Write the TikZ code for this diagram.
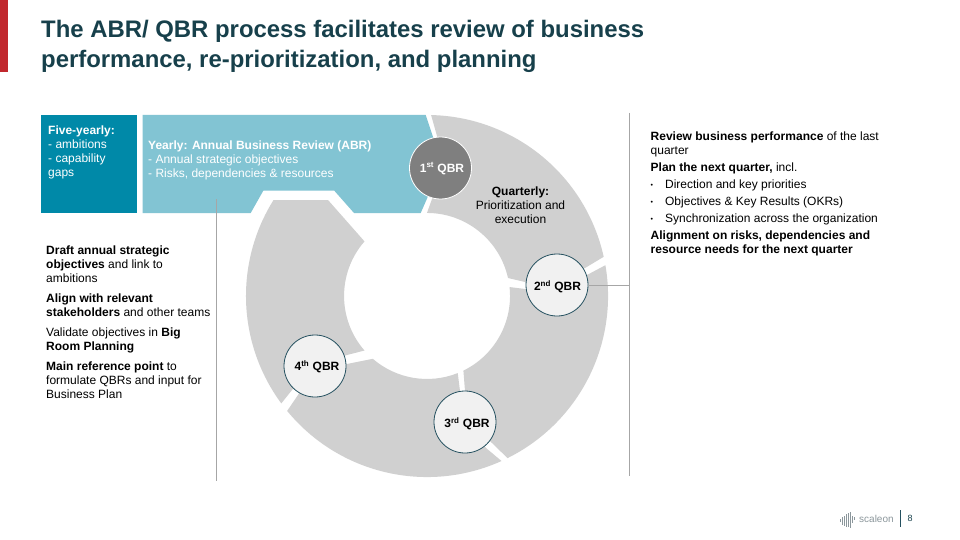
\documentclass[tikz,border=0pt]{standalone}
\usepackage{fontspec}
\setmainfont{Liberation Sans}
\definecolor{titlec}{HTML}{17404B}
\definecolor{barred}{HTML}{C1272D}
\definecolor{teald}{HTML}{0089A8}
\definecolor{teall}{HTML}{82C4D3}
\definecolor{ringg}{HTML}{D0D0D0}
\definecolor{ruleg}{HTML}{A6A6A6}
\definecolor{qdark}{HTML}{7F7F7F}
\definecolor{qlight}{HTML}{F1F1F1}
\definecolor{qedge}{HTML}{24505F}
\definecolor{logog}{HTML}{8C979C}
\tikzset{
  x=1pt,y=-1pt,
  rulel/.style={draw=ruleg,line width=0.8pt},
  qbr/.style={circle,minimum size=62pt,inner sep=0pt,fill=qlight,draw=qedge,line width=0.8pt,font=\fontsize{12}{14}\selectfont\bfseries,text=black},
  qbrone/.style={qbr,fill=qdark,draw=white,text=white},
  qlabel/.style={inner sep=0pt,font=\fontsize{12}{14}\selectfont\bfseries},
  body/.style={inner sep=0pt,anchor=north west,align=left,font=\fontsize{12}{14}\selectfont,text=black},
  onteal/.style={body,text=white},
  logobar/.style={draw=logog,line width=0.9pt},
}
\newcommand{\para}{\\[6pt]}
\newcommand{\smallbullet}{\raisebox{1.5pt}{\fontsize{7}{8}\selectfont•}\hspace{12pt}}
\begin{document}
\begin{tikzpicture}
\useasboundingbox (0,0) rectangle (960,540);
\fill[white] (0,0) rectangle (960,540);
\fill[barred] (0,0) rectangle (8,72);
\node[inner sep=0pt,anchor=north west,align=left,text=titlec,font=\fontsize{23.9}{30}\selectfont\bfseries] (title) at (41,19.5)
  {The ABR/ QBR process facilitates review of business\\performance, re-prioritization, and planning};

% boxes
\fill[teald] (41,115) rectangle (137,213);
\fill[teall] (142.5,115) -- (425.7,115) -- (432.7,136) -- (445,168) -- (427.7,197) -- (420.7,213)
  -- (354,213) -- (334.3,190.7) -- (263.3,190.7) -- (250.7,213) -- (142.5,213) -- cycle;

% ring: centre (427,296), R=181, r=83
% seg 1
\fill[ringg] (431.1,115.05) arc[start angle=88.7,end angle=12.5,x radius=181,y radius=-181]
  -- (585,268) -- (557,280) -- (525,282) -- (508,278)
  arc[start angle=12.5,end angle=90,x radius=83,y radius=-83]
  -- (432,199) -- (445,168) -- (437,136) -- cycle;
% seg 2
\fill[ringg] (605.4,265.2) arc[start angle=9.8,end angle=-63.6,x radius=181,y radius=-181]
  -- (492,443) -- (470,422) -- (465,391) -- (463.4,370.6)
  arc[start angle=-64,end angle=6.2,x radius=83,y radius=-83]
  -- (525,289) -- (557,292) -- (587,275) -- cycle;
% seg 3
\fill[ringg] (501.5,461) arc[start angle=-65.7,end angle=-140.6,x radius=181,y radius=-181]
  -- (298,395) -- (315,366) -- (347,364) -- (372.8,358.8)
  arc[start angle=-130.8,end angle=-68.3,x radius=83,y radius=-83]
  -- (460,391) -- (460,422) -- (486,448) -- cycle;
% seg 4
\fill[ringg] (281.3,403.4) arc[start angle=216.4,end angle=148,x radius=181,y radius=-181]
  -- (328,200) -- (364.5,241.4)
  arc[start angle=138.9,end angle=221.1,x radius=83,y radius=-83]
  -- (347,355) -- (310,366) -- (292,390) -- cycle;

% rules
\coordinate (lefttop) at (216,199);
\coordinate (leftbot) at (216,481);
\coordinate (righttop) at (629.5,113);
\coordinate (rightbot) at (629.5,476);
\coordinate (rightjoin) at (629.5,285);
\draw[rulel] (lefttop) -- (leftbot);
\draw[rulel] (righttop) -- (rightbot);

% circles
\node[qbrone] (q1) at (440.5,168) {};
\node[qbr] (q2) at (557,285) {};
\node[qbr] (q3) at (465,422) {};
\node[qbr] (q4) at (315,366) {};
\node[qlabel,text=white] (q1t) at (442,168.5) {1\textsuperscript{st} QBR};
\node[qlabel] (q2t) at (557.5,286.5) {2\textsuperscript{nd} QBR};
\node[qlabel] (q3t) at (467,423.5) {3\textsuperscript{rd} QBR};
\node[qlabel] (q4t) at (317,366.5) {4\textsuperscript{th} QBR};
\draw[rulel] (q2) -- (rightjoin);

% texts
\node[onteal] (five) at (48,125.5) {\textbf{Five-yearly:}\\- ambitions\\- capability\\gaps};
\node[onteal] (yearly) at (148,140.5) {\textbf{Yearly: Annual Business Review (ABR)}\\- Annual strategic objectives\\- Risks, dependencies \& resources};
\node[body,align=center,anchor=north] (quart) at (520.5,187) {\textbf{Quarterly:}\\Prioritization and\\execution};
\node[body] (lefttext) at (46,246) {\textbf{Draft annual strategic}\\\textbf{objectives} and link to\\ambitions\para
  \textbf{Align with relevant}\\\textbf{stakeholders} and other teams\para
  Validate objectives in \textbf{Big}\\\textbf{Room Planning}\para
  \textbf{Main reference point} to\\formulate QBRs and input for\\Business Plan};
\node[body] (righttext) at (650.5,132) {\textbf{Review business performance} of the last\\quarter\\[3pt]
  \textbf{Plan the next quarter,} incl.\\[3pt]
  \smallbullet Direction and key priorities\\[3pt]
  \smallbullet Objectives \& Key Results (OKRs)\\[3pt]
  \smallbullet Synchronization across the organization\\[3pt]
  \textbf{Alignment on risks, dependencies and}\\\textbf{resource needs for the next quarter}};

% logo
\foreach \lx/\ly/\lh in {840/519/3,842/517/8,844/516/10,846/514/13,848/513/14,850/512/16,852/516/7,854/517/3}{
  \draw[logobar] (\lx,\ly) -- ++(0,\lh);
}
\node[inner sep=0pt,anchor=west,text=logog,font=\fontsize{10}{12}\selectfont] (logo) at (859,519) {scaleon};
\coordinate (seplo) at (900.5,510);
\coordinate (sephi) at (900.5,527);
\draw[draw=qedge,line width=0.8pt] (seplo) -- (sephi);
\node[inner sep=0pt,text=titlec,font=\fontsize{9}{11}\selectfont] (pageno) at (910,518.5) {8};
\end{tikzpicture}
\end{document}
